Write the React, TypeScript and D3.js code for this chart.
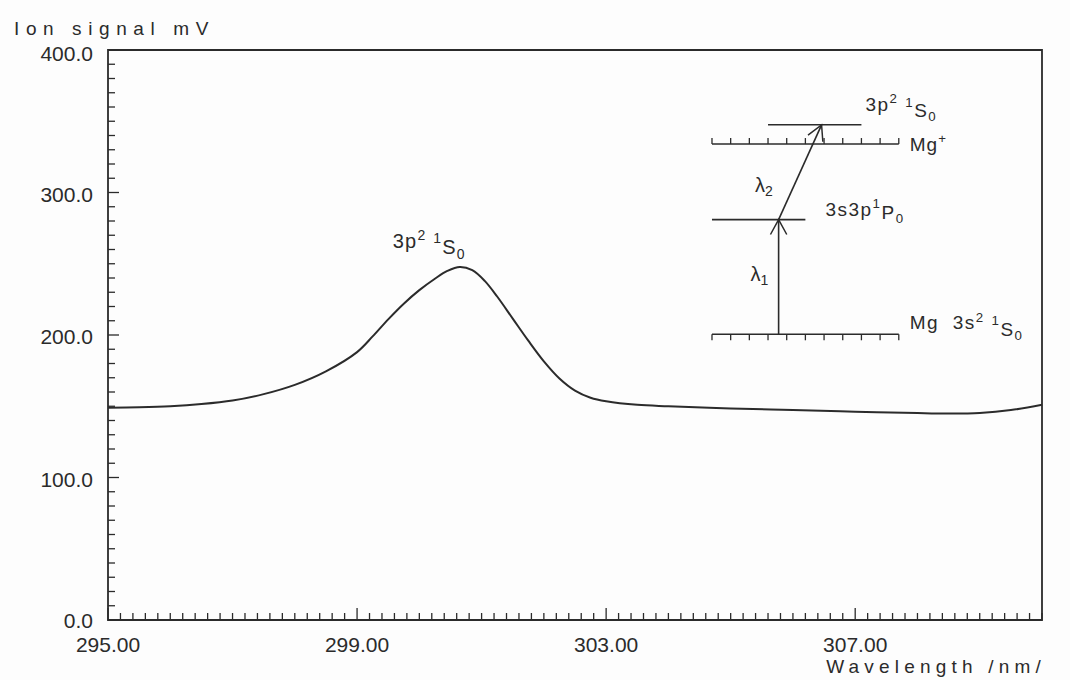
import React from "react";
import * as d3 from "d3";

// ---- data ----
const wavelengths = [295, 295.5, 296, 296.5, 297, 297.5, 298, 298.5, 299, 299.25, 299.5, 299.75, 300, 300.25, 300.45, 300.65, 300.85, 301.05, 301.25, 301.5, 301.75, 302, 302.25, 302.5, 302.75, 303, 303.5, 304, 305, 306, 307, 308, 308.5, 309, 309.5, 310];
const signal = [149, 149.3, 150, 151.5, 154, 158.5, 165, 174.5, 188, 199, 211, 222, 231.5, 239.5, 245, 247.8, 245.5, 238, 227, 211.5, 196, 181.5, 169.5, 161, 156, 153.5, 151, 150, 148.5, 147.3, 146.2, 145.2, 144.9, 145.3, 147.3, 151];

const xTickLabels = [295, 299, 303, 307];
const yTickLabels = [0, 100, 200, 300, 400];

// energy-level inset, expressed in the chart's data units
const levelGround = { e: 200.5, x0: 304.7, x1: 307.7 };
const levelMid = { e: 281, x0: 304.7, x1: 306.2 };
const levelIon = { e: 334, x0: 304.7, x1: 307.7 };
const levelTop = { e: 347.5, x0: 305.6, x1: 307.1 };
const transitionX1 = 305.77;
const transitionX2 = 306.46;
const levelTickStep = 0.3;

const W = 1070;
const H = 680;
const M = { left: 108, right: 1042, top: 50, bottom: 620 };
const INK = "#2b2b2b";
const FONT = "'Liberation Sans', Arial, sans-serif";

function arrowHead(x1: number, y1: number, x2: number, y2: number, len = 17, ang = 0.5) {
  const a = Math.atan2(y1 - y2, x1 - x2);
  const l = [x2 + len * Math.cos(a + ang), y2 + len * Math.sin(a + ang)];
  const r = [x2 + len * Math.cos(a - ang), y2 + len * Math.sin(a - ang)];
  return `M${l[0]},${l[1]}L${x2},${y2}L${r[0]},${r[1]}`;
}

export default function App() {
  const x = d3.scaleLinear().domain([295, 310]).range([M.left, M.right]);
  const y = d3.scaleLinear().domain([0, 400]).range([M.bottom, M.top]);

  const pts = wavelengths.map((w, i) => [w, signal[i]] as [number, number]);
  const line = d3
    .line<[number, number]>()
    .x((d) => x(d[0]))
    .y((d) => y(d[1]))
    .curve(d3.curveCatmullRom.alpha(0.5));

  const xMinor = d3.range(0, 76).map((i) => 295 + i * 0.2);
  const yMinor = d3.range(0, 41).map((i) => i * 10);

  const peakIdx = d3.maxIndex(signal);
  const peakX = x(wavelengths[peakIdx]);
  const peakY = y(signal[peakIdx]);

  const levelTicks = (lv: { x0: number; x1: number }) =>
    d3.range(0, Math.round((lv.x1 - lv.x0) / levelTickStep) + 1).map((i) => lv.x0 + i * levelTickStep);

  const lv = (l: { e: number; x0: number; x1: number }) => (
    <line x1={x(l.x0)} x2={x(l.x1)} y1={y(l.e)} y2={y(l.e)} stroke={INK} strokeWidth={1.6} />
  );

  const t1 = { x1: x(transitionX1), y1: y(levelGround.e), x2: x(transitionX1), y2: y(levelMid.e) };
  const t2 = { x1: x(transitionX1), y1: y(levelMid.e), x2: x(transitionX2), y2: y(levelTop.e) };

  const sub = (s: string) => (
    <tspan fontSize="0.7em" dy="0.3em">{s}</tspan>
  );
  const term = (
    <>
      3p<tspan fontSize="0.7em" dy="-0.55em">2</tspan>
      <tspan dy="0.55em">{"\u00A0"}</tspan>
      <tspan fontSize="0.7em" dy="-0.55em">1</tspan>
      <tspan dy="0.55em">S</tspan>
      {sub("0")}
    </>
  );

  return (
    <svg width={W} height={H} style={{ position: "absolute", left: 0, top: 0, background: "#fdfdfd" }} fontFamily={FONT} fill={INK}>
      {/* frame */}
      <path
        d={`M${M.left},${M.top}H${M.right}V${M.bottom}H${M.left}Z`}
        fill="none"
        stroke={INK}
        strokeWidth={1.8}
      />
      {/* x ticks (inward) */}
      {xMinor.map((v, i) => {
        const major = xTickLabels.some((t) => Math.abs(t - v) < 1e-6);
        return (
          <line key={"xt" + i} x1={x(v)} x2={x(v)} y1={M.bottom} y2={M.bottom - (major ? 12 : 7)} stroke={INK} strokeWidth={1.3} />
        );
      })}
      {/* y ticks (inward) */}
      {yMinor.map((v, i) => {
        const major = v % 100 === 0;
        return (
          <line key={"yt" + i} x1={M.left} x2={M.left + (major ? 11 : 7)} y1={y(v)} y2={y(v)} stroke={INK} strokeWidth={1.3} />
        );
      })}
      {/* x tick labels */}
      {xTickLabels.map((v) => (
        <text key={"xl" + v} x={x(v)} y={652} textAnchor="middle" fontSize={21}>
          {v.toFixed(2)}
        </text>
      ))}
      {/* y tick labels */}
      {yTickLabels.map((v) => (
        <text key={"yl" + v} x={M.left - 15} y={y(v) + (v === 400 ? 11 : v === 0 ? 8 : 9)} textAnchor="end" fontSize={21}>
          {v.toFixed(1)}
        </text>
      ))}
      {/* axis titles */}
      <text x={14} y={35} fontSize={19} letterSpacing={6.6}>Ion signal mV</text>
      <text x={1046} y={673} fontSize={19} letterSpacing={5.2} textAnchor="end">Wavelength /nm/</text>

      {/* data curve */}
      <path d={line(pts) || ""} fill="none" stroke={INK} strokeWidth={2} />

      {/* peak label */}
      <text x={peakX - 67} y={peakY - 19} fontSize={20} letterSpacing={1.2}>
        {term}
      </text>

      {/* energy level inset */}
      {lv(levelGround)}
      {lv(levelMid)}
      {lv(levelIon)}
      {lv(levelTop)}
      {levelTicks(levelGround).map((v, i) => (
        <line key={"gt" + i} x1={x(v)} x2={x(v)} y1={y(levelGround.e)} y2={y(levelGround.e) + 6} stroke={INK} strokeWidth={1.3} />
      ))}
      {levelTicks(levelIon).map((v, i) => (
        <line key={"it" + i} x1={x(v)} x2={x(v)} y1={y(levelIon.e)} y2={y(levelIon.e) - 6} stroke={INK} strokeWidth={1.3} />
      ))}
      <line {...t1} stroke={INK} strokeWidth={1.6} />
      <path d={arrowHead(t1.x1, t1.y1, t1.x2, t1.y2)} fill="none" stroke={INK} strokeWidth={1.5} />
      <line {...t2} stroke={INK} strokeWidth={1.6} />
      <path d={arrowHead(t2.x1, t2.y1, t2.x2, t2.y2)} fill="none" stroke={INK} strokeWidth={1.5} />

      <text x={t1.x1 - 28} y={(t1.y1 + t1.y2) / 2 + 4} fontSize={20}>
        λ{sub("1")}
      </text>
      <text x={(t2.x1 + t2.x2) / 2 - 45} y={(t2.y1 + t2.y2) / 2 + 20} fontSize={20}>
        λ{sub("2")}
      </text>

      <text x={x(levelTop.x1) + 4} y={y(levelTop.e) - 14} fontSize={19} letterSpacing={1.5}>
        {term}
      </text>
      <text x={x(levelIon.x1) + 11} y={y(levelIon.e) + 7} fontSize={19} letterSpacing={1}>
        Mg<tspan fontSize="0.7em" dy="-0.6em">+</tspan>
      </text>
      <text x={x(levelMid.x1) + 20} y={y(levelMid.e) - 4} fontSize={19} letterSpacing={1.5}>
        3s3p<tspan fontSize="0.7em" dy="-0.55em">1</tspan>
        <tspan dy="0.55em">P</tspan>
        {sub("0")}
      </text>
      <text x={x(levelGround.x1) + 11} y={y(levelGround.e) - 5} fontSize={19} letterSpacing={1.5}>
        Mg{"\u00A0\u00A0"}3s<tspan fontSize="0.7em" dy="-0.55em">2</tspan>
        <tspan dy="0.55em">{"\u00A0"}</tspan>
        <tspan fontSize="0.7em" dy="-0.55em">1</tspan>
        <tspan dy="0.55em">S</tspan>
        {sub("0")}
      </text>
    </svg>
  );
}
